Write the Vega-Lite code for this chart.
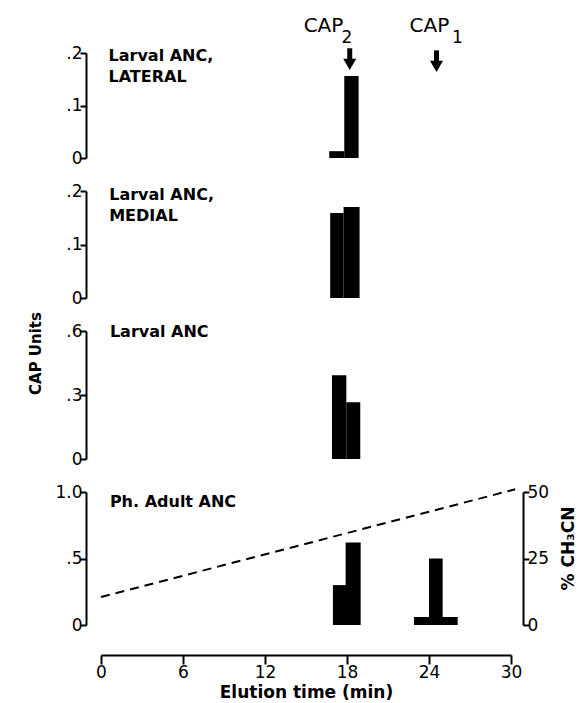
{
  "$schema": "https://vega.github.io/schema/vega-lite/v6.json",
  "background": "white",
  "padding": {"left": 28, "top": 16, "right": 5, "bottom": 5},
  "spacing": 33,
  "bounds": "flush",
  "config": {
    "view": {"stroke": null},
    "axis": {"domainColor": "black", "domainWidth": 2, "tickColor": "black", "tickWidth": 2, "labelColor": "black", "labelFont": "DejaVu Sans", "labelFontSize": 17, "titleFont": "DejaVu Sans", "titleColor": "black", "titleFontWeight": "bold", "grid": false, "labelFlush": false, "labelOverlap": false},
    "text": {"font": "DejaVu Sans", "color": "black"}
  },
  "datasets": {
    "bars": [
      {"panel": "P1", "t0": 16.7, "t1": 17.8, "v": 0.013},
      {"panel": "P1", "t0": 17.8, "t1": 18.85, "v": 0.156},
      {"panel": "P2", "t0": 16.77, "t1": 17.75, "v": 0.159},
      {"panel": "P2", "t0": 17.75, "t1": 18.92, "v": 0.17},
      {"panel": "P3", "t0": 16.9, "t1": 17.95, "v": 0.392},
      {"panel": "P3", "t0": 17.95, "t1": 18.97, "v": 0.266},
      {"panel": "P4", "t0": 16.97, "t1": 18.0, "v": 0.3},
      {"panel": "P4", "t0": 17.9, "t1": 19.0, "v": 0.62},
      {"panel": "P4", "t0": 22.9, "t1": 26.1, "v": 0.06},
      {"panel": "P4", "t0": 24.0, "t1": 25.0, "v": 0.5}
    ],
    "labels": [
      {"panel": "P1", "t": 0.55, "v": 0.21, "text": "Larval ANC,\nLATERAL"},
      {"panel": "P2", "t": 0.6, "v": 0.208, "text": "Larval ANC,\nMEDIAL"},
      {"panel": "P3", "t": 0.65, "v": 0.632, "text": "Larval ANC"},
      {"panel": "P4", "t": 0.65, "v": 0.986, "text": "Ph. Adult ANC"}
    ],
    "caps": [
      {"t": 16.28, "v": 0.2396, "text": "CAP", "kind": "main"},
      {"t": 18.0, "v": 0.2185, "text": "2", "kind": "sub"},
      {"t": 24.03, "v": 0.2396, "text": "CAP", "kind": "main"},
      {"t": 26.08, "v": 0.2185, "text": "1", "kind": "sub"}
    ],
    "arrows": [
      {"t": 18.2, "top": 0.209, "bot": 0.182, "head": 0.1784},
      {"t": 24.55, "top": 0.205, "bot": 0.178, "head": 0.1746}
    ],
    "gradient": [
      {"t": 0, "pct": 10.5},
      {"t": 30.3, "pct": 51}
    ]
  },
  "vconcat": [
    {
      "width": 410, "height": 105,
      "layer": [
        {
          "data": {"name": "bars"},
          "transform": [{"filter": "datum.panel === 'P1'"}],
          "mark": {"type": "rect", "color": "black"},
          "encoding": {
            "x": {"field": "t0", "type": "quantitative", "scale": {"domain": [0, 30], "nice": false}, "axis": null},
            "x2": {"field": "t1"},
            "y": {"field": "v", "type": "quantitative", "scale": {"domain": [0, 0.2], "nice": false, "zero": false},
              "axis": {"orient": "left", "offset": 15, "values": [0, 0.1, 0.2], "tickSize": 6, "labelPadding": -2, "title": null,
                "encode": {"ticks": {"update": {"x2": {"value": 6}}}},
                "labelExpr": "datum.value == 0 ? '0' : (datum.value >= 1 ? format(datum.value, '.1f') : replace(format(datum.value, '.1f'), '0.', '.'))"}},
            "y2": {"datum": 0}
          }
        },
        {
          "data": {"name": "labels"},
          "transform": [{"filter": "datum.panel === 'P1'"}],
          "mark": {"type": "text", "align": "left", "baseline": "top", "fontSize": 16, "fontWeight": "bold", "lineBreak": "\n", "lineHeight": 21},
          "encoding": {
            "x": {"field": "t", "type": "quantitative"},
            "y": {"field": "v", "type": "quantitative"},
            "text": {"field": "text"}
          }
        },
        {
          "data": {"name": "caps"},
          "mark": {"type": "text", "align": "center", "baseline": "alphabetic"},
          "encoding": {
            "x": {"field": "t", "type": "quantitative"},
            "y": {"field": "v", "type": "quantitative"},
            "text": {"field": "text"},
            "size": {"field": "kind", "type": "nominal", "scale": {"domain": ["main", "sub"], "range": [20, 17]}, "legend": null}
          }
        },
        {
          "data": {"name": "arrows"},
          "mark": {"type": "rule", "color": "black", "strokeWidth": 5},
          "encoding": {
            "x": {"field": "t", "type": "quantitative"},
            "y": {"field": "top", "type": "quantitative"},
            "y2": {"field": "bot"}
          }
        },
        {
          "data": {"name": "arrows"},
          "mark": {"type": "point", "shape": "triangle-down", "filled": true, "color": "black", "size": 170, "opacity": 1},
          "encoding": {
            "x": {"field": "t", "type": "quantitative"},
            "y": {"field": "head", "type": "quantitative"}
          }
        }
      ]
    },
    {
      "width": 410, "height": 107,
      "layer": [
        {
          "data": {"name": "bars"},
          "transform": [{"filter": "datum.panel === 'P2'"}],
          "mark": {"type": "rect", "color": "black"},
          "encoding": {
            "x": {"field": "t0", "type": "quantitative", "scale": {"domain": [0, 30], "nice": false}, "axis": null},
            "x2": {"field": "t1"},
            "y": {"field": "v", "type": "quantitative", "scale": {"domain": [0, 0.2], "nice": false, "zero": false},
              "axis": {"orient": "left", "offset": 15, "values": [0, 0.1, 0.2], "tickSize": 6, "labelPadding": -2, "title": null,
                "encode": {"ticks": {"update": {"x2": {"value": 6}}}},
                "labelExpr": "datum.value == 0 ? '0' : (datum.value >= 1 ? format(datum.value, '.1f') : replace(format(datum.value, '.1f'), '0.', '.'))"}},
            "y2": {"datum": 0}
          }
        },
        {
          "data": {"name": "labels"},
          "transform": [{"filter": "datum.panel === 'P2'"}],
          "mark": {"type": "text", "align": "left", "baseline": "top", "fontSize": 16, "fontWeight": "bold", "lineBreak": "\n", "lineHeight": 21},
          "encoding": {
            "x": {"field": "t", "type": "quantitative"},
            "y": {"field": "v", "type": "quantitative"},
            "text": {"field": "text"}
          }
        }
      ]
    },
    {
      "width": 410, "height": 128,
      "layer": [
        {
          "data": {"name": "bars"},
          "transform": [{"filter": "datum.panel === 'P3'"}],
          "mark": {"type": "rect", "color": "black"},
          "encoding": {
            "x": {"field": "t0", "type": "quantitative", "scale": {"domain": [0, 30], "nice": false}, "axis": null},
            "x2": {"field": "t1"},
            "y": {"field": "v", "type": "quantitative", "scale": {"domain": [0, 0.6], "nice": false, "zero": false},
              "axis": {"orient": "left", "offset": 15, "values": [0, 0.3, 0.6], "tickSize": 6, "labelPadding": -2, "title": "CAP Units", "titleFontSize": 15, "titleY": 22, "titlePadding": 22,
                "encode": {"ticks": {"update": {"x2": {"value": 6}}}},
                "labelExpr": "datum.value == 0 ? '0' : (datum.value >= 1 ? format(datum.value, '.1f') : replace(format(datum.value, '.1f'), '0.', '.'))"}},
            "y2": {"datum": 0}
          }
        },
        {
          "data": {"name": "labels"},
          "transform": [{"filter": "datum.panel === 'P3'"}],
          "mark": {"type": "text", "align": "left", "baseline": "top", "fontSize": 16, "fontWeight": "bold", "lineBreak": "\n", "lineHeight": 21},
          "encoding": {
            "x": {"field": "t", "type": "quantitative"},
            "y": {"field": "v", "type": "quantitative"},
            "text": {"field": "text"}
          }
        }
      ]
    },
    {
      "width": 410, "height": 133,
      "resolve": {"scale": {"y": "independent"}},
      "layer": [
        {
          "data": {"name": "bars"},
          "transform": [{"filter": "datum.panel === 'P4'"}],
          "mark": {"type": "rect", "color": "black"},
          "encoding": {
            "x": {"field": "t0", "type": "quantitative", "scale": {"domain": [0, 30], "nice": false},
              "axis": {"orient": "bottom", "offset": 30, "values": [0, 6, 12, 18, 24, 30], "tickSize": 9, "labelPadding": 0, "title": "Elution time (min)", "titleFontSize": 17, "titlePadding": 4,
                "encode": {"ticks": {"update": {"y2": {"value": -9}}}}}},
            "x2": {"field": "t1"},
            "y": {"field": "v", "type": "quantitative", "scale": {"domain": [0, 1], "nice": false, "zero": false},
              "axis": {"orient": "left", "offset": 15, "values": [0, 0.5, 1], "tickSize": 6, "labelPadding": -2, "title": null,
                "encode": {"ticks": {"update": {"x2": {"value": 6}}}},
                "labelExpr": "datum.value == 0 ? '0' : (datum.value >= 1 ? format(datum.value, '.1f') : replace(format(datum.value, '.1f'), '0.', '.'))"}},
            "y2": {"datum": 0}
          }
        },
        {
          "data": {"name": "labels"},
          "transform": [{"filter": "datum.panel === 'P4'"}],
          "mark": {"type": "text", "align": "left", "baseline": "top", "fontSize": 16, "fontWeight": "bold", "lineBreak": "\n", "lineHeight": 21},
          "encoding": {
            "x": {"field": "t", "type": "quantitative"},
            "y": {"field": "v", "type": "quantitative", "scale": {"domain": [0, 1], "nice": false, "zero": false}, "axis": null},
            "text": {"field": "text"}
          }
        },
        {
          "data": {"name": "gradient"},
          "mark": {"type": "line", "color": "black", "strokeWidth": 2, "strokeDash": [9, 6], "clip": false},
          "encoding": {
            "x": {"field": "t", "type": "quantitative"},
            "y": {"field": "pct", "type": "quantitative", "scale": {"domain": [0, 50], "nice": false, "zero": false},
              "axis": {"orient": "right", "offset": 12, "values": [0, 25, 50], "tickSize": 6, "labelPadding": -2, "title": "% CH₃CN", "titleAngle": 270, "titleY": 56, "titlePadding": 29, "titleFontSize": 17,
                "encode": {"ticks": {"update": {"x2": {"value": -6}}}}}}
          }
        }
      ]
    }
  ]
}
